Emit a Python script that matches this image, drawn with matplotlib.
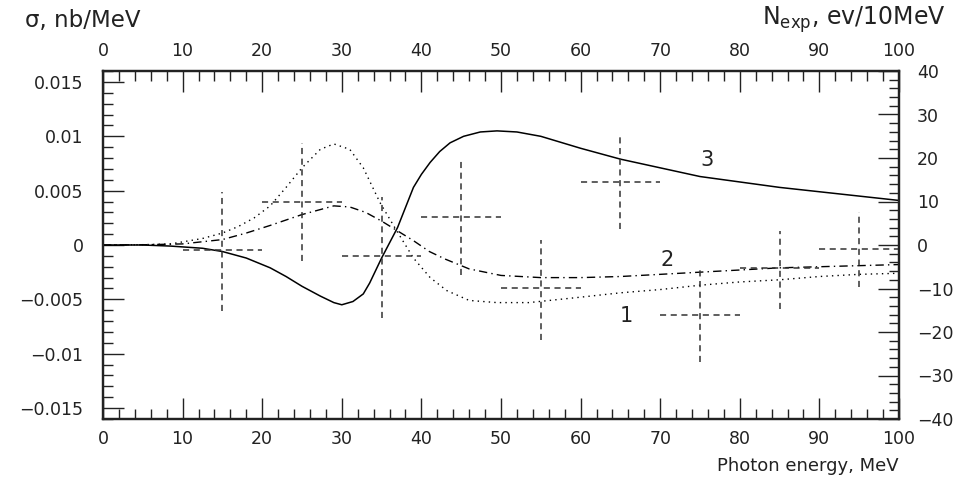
import matplotlib
matplotlib.use("Agg")
import numpy as np
from matplotlib import pyplot as plt
from matplotlib.ticker import MultipleLocator, FuncFormatter

# curve 3 (solid)
x3 = [0, 5, 8.5, 12.5, 15, 18, 21, 23, 25, 27.3, 29, 30, 31.4, 32.7, 33.5, 35, 37,
      39, 40, 41.1, 42.3, 43.6, 45.3, 47.4, 49.5, 52, 55, 60, 65, 70, 75, 80, 85,
      90, 95, 100]
y3 = [0, 0, -0.0001, -0.0003, -0.0006, -0.0012, -0.0021, -0.0029, -0.0038, -0.0047,
      -0.0053, -0.0055, -0.0052, -0.0045, -0.0035, -0.0012, 0.0016, 0.0053, 0.0065,
      0.0076, 0.0086, 0.0094, 0.0100, 0.0104, 0.0105, 0.0104, 0.0100, 0.0089,
      0.0079, 0.0071, 0.0063, 0.0058, 0.0053, 0.0049, 0.0045, 0.0041]

# curve 1 (dotted)
x1 = [0, 5, 8.5, 12.5, 15, 17, 19, 21, 23, 25, 27.3, 29, 31, 32.7, 34.8, 36.9, 39,
      41.1, 43.2, 46, 49.5, 53.5, 60, 65, 70, 75, 80, 85, 90, 95, 100]
y1 = [0, 0.00003, 0.0001, 0.0006, 0.0011, 0.0017, 0.0025, 0.0036, 0.0053, 0.0071,
      0.0088, 0.0093, 0.0088, 0.0071, 0.0039, 0.0013, -0.0012, -0.0030, -0.0042,
      -0.0051, -0.0053, -0.0053, -0.0048, -0.0044, -0.0041, -0.0037, -0.0034,
      -0.0032, -0.0029, -0.0027, -0.0026]

# curve 2 (dash-dot)
x2 = [0, 5, 10, 15, 18, 21, 25, 29, 31, 33, 35, 37, 39, 41, 43, 46, 50, 55, 60,
      65, 70, 75, 80, 85, 90, 95, 100]
y2 = [0, 0.00002, 0.0001, 0.0005, 0.0011, 0.0018, 0.0028, 0.0036, 0.0035, 0.0030,
      0.0022, 0.0013, 0.0004, -0.0006, -0.0013, -0.0022, -0.0028, -0.0030, -0.0030,
      -0.0029, -0.0027, -0.0025, -0.0023, -0.0021, -0.0020, -0.0019, -0.0018]

# experimental points, events / 10 MeV
ex = [15, 25, 35, 45, 55, 65, 75, 85, 95]
ex_half = 5
ny = [-1.1, 10.0, -2.6, 6.4, -9.8, 14.4, -16.0, -5.2, -0.9]
ny_hi = [12.1, 23.4, 11.0, 19.8, 1.2, 25.2, -5.2, 3.3, 7.5]
ny_lo = [-15.1, -3.6, -16.7, -7.0, -21.8, 3.7, -26.9, -14.7, -9.7]

ink = "#222"

fig = plt.figure(figsize=(9.59, 4.83), dpi=100)
ax = fig.add_axes([103 / 959, 64 / 483, 796 / 959, 348 / 483])

ax.plot(x3, y3, color="black", lw=1.1, ls="-")
ax.plot(x1, y1, color="black", lw=1.0, ls=(0, (1, 3)))
ax.plot(x2, y2, color="black", lw=1.0, ls=(0, (6, 3, 1, 3)))

ax.text(75.9, 0.0078, "3", fontsize=15, ha="center", va="center", color=ink)
ax.text(70.9, -0.0014, "2", fontsize=15, ha="center", va="center", color=ink)
ax.text(65.8, -0.0065, "1", fontsize=15, ha="center", va="center", color=ink)

ax.set_xlim(0, 100)
ax.set_ylim(-0.01601, 0.01601)
ax.xaxis.set_major_locator(MultipleLocator(10))
ax.xaxis.set_minor_locator(MultipleLocator(2))
ax.yaxis.set_major_locator(MultipleLocator(0.005))
ax.yaxis.set_minor_locator(MultipleLocator(0.001))
ax.yaxis.set_major_formatter(FuncFormatter(lambda v, p: ("%g" % round(v, 4)).replace("-", "\u2212")))
ax.tick_params(which="both", direction="in", top=True, labeltop=True,
               labelsize=12.5, colors=ink, width=1.0)
ax.tick_params(which="major", length=15)
ax.tick_params(which="minor", length=7)
ax.tick_params(axis="x", which="major", pad=8)
ax.tick_params(axis="y", which="major", pad=14)
for s in ax.spines.values():
    s.set_linewidth(1.6)
    s.set_color(ink)

ax2 = ax.twinx()
ax2.set_ylim(-40, 40)
ax2.vlines(ex, ny_lo, ny_hi, colors="#333", lw=1.1, linestyles=(0, (4, 3)))
ax2.hlines(ny, np.array(ex) - ex_half, np.array(ex) + ex_half, colors="#333",
           lw=1.1, linestyles=(0, (4, 3)))
ax2.yaxis.set_major_locator(MultipleLocator(10))
ax2.yaxis.set_minor_locator(MultipleLocator(2))
ax2.tick_params(which="both", direction="in", labelsize=12.5, colors=ink, width=1.0)
ax2.tick_params(which="major", length=15, pad=13)
ax2.tick_params(which="minor", length=7)
for s in ax2.spines.values():
    s.set_linewidth(1.6)
    s.set_color(ink)

fig.text(25 / 959, 1 - 20 / 483, "\u03c3, nb/MeV", fontsize=16.5, ha="left", va="center", color=ink)
fig.text(946 / 959, 1 - 20 / 483, r"N$_{\rm exp}$, ev/10MeV", fontsize=17, ha="right",
         va="center", color=ink)
fig.text(899 / 959, 1 - 466 / 483, "Photon energy, MeV", fontsize=13, ha="right",
         va="center", color=ink)

fig.savefig("out.png", dpi=100)
